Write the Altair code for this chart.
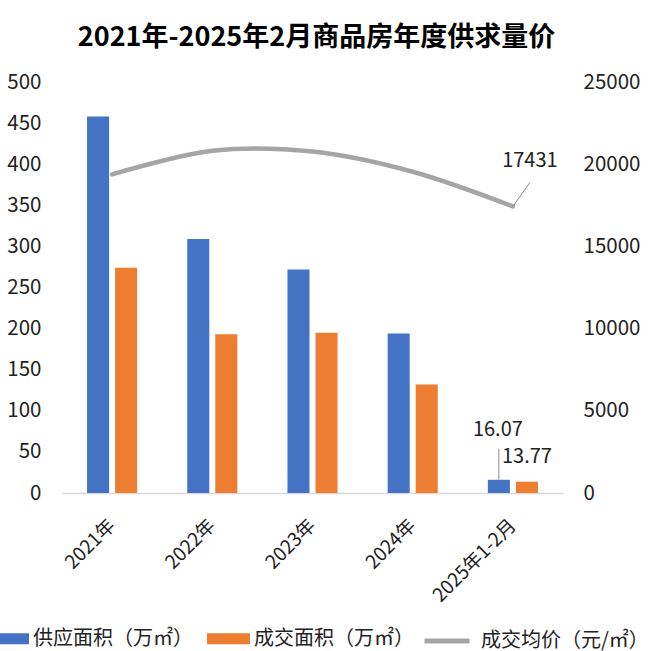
import altair as alt
import pandas as pd

categories = ["2021年", "2022年", "2023年", "2024年", "2025年1-2月"]
supply_area = [458, 309, 272, 194, 16.07]
deal_area = [274, 193, 195, 132, 13.77]
avg_price = [19380, 20820, 20770, 19540, 17431]
series_names = ["供应面积（万㎡）", "成交面积（万㎡）"]
price_name = "成交均价（元/㎡）"
left_ticks = [0, 50, 100, 150, 200, 250, 300, 350, 400, 450, 500]
right_ticks = [0, 5000, 10000, 15000, 20000, 25000]
title_text = "2021年-2025年2月商品房年度供求量价"

FONT = "Noto Sans CJK SC"
TXT = "#222222"

bar_df = pd.DataFrame({
    "cat": categories * 2,
    "series": [series_names[0]] * len(categories) + [series_names[1]] * len(categories),
    "value": supply_area + deal_area,
})
line_df = pd.DataFrame({"cat": categories, "series": price_name, "price": avg_price})
last_cat = categories[-1]

x_axis = alt.Axis(title=None, labelAngle=-45, labelAlign="right", labelBaseline="middle",
                  labelFontSize=19, labelFont=FONT, labelColor=TXT, labelPadding=29,
                  ticks=False, domainColor="#d9d9d9", domainWidth=1.5)
x_scale = alt.Scale(domain=categories, paddingInner=0.5, paddingOuter=0.25)


def X(**kw):
    return alt.X("cat:N", sort=categories, scale=x_scale, axis=x_axis, **kw)


xoff = alt.XOffset("series:N", sort=series_names,
                   scale=alt.Scale(domain=series_names, paddingInner=0.214, paddingOuter=0))

y_left = alt.Y("value:Q", scale=alt.Scale(domain=[0, 500], nice=False),
               axis=alt.Axis(values=left_ticks, title=None, grid=False, ticks=False, domain=False,
                             labelPadding=21, labelFontSize=20.5, labelFont=FONT, labelColor=TXT))
y_right = alt.Y("price:Q", scale=alt.Scale(domain=[0, 25000], nice=False),
                axis=alt.Axis(orient="right", values=right_ticks, format="d", title=None, grid=False,
                              ticks=False, domain=False, labelPadding=20, labelAlign="left",
                              labelFontSize=20.5, labelFont=FONT, labelColor=TXT))

bars = alt.Chart(bar_df).mark_bar().encode(
    x=X(), xOffset=xoff, y=y_left,
    color=alt.Color("series:N", sort=series_names,
                    scale=alt.Scale(domain=series_names, range=["#4472C4", "#ED7D31"]),
                    legend=alt.Legend(title=None, orient="none", legendX=-76, legendY=535,
                                      direction="horizontal", symbolType="M-1,-0.256H1V0.256H-1Z",
                                      symbolSize=1849, symbolStrokeWidth=0, labelFontSize=20,
                                      labelFont=FONT, labelColor=TXT, labelOffset=4,
                                      columnPadding=14, padding=0, labelLimit=300)),
)

bar_leader = alt.Chart(bar_df).transform_filter(
    (alt.datum.cat == last_cat) & (alt.datum.series == series_names[0])
).mark_rule(color="#8c8c8c", strokeWidth=1, y2Offset=-31).encode(
    x=X(), xOffset=xoff, y=y_left, y2="value:Q")

bar_text1 = alt.Chart(bar_df).transform_filter(
    (alt.datum.cat == last_cat) & (alt.datum.series == series_names[0])
).mark_text(font=FONT, fontSize=20, color=TXT, dy=-50, dx=-1).encode(
    x=X(), xOffset=xoff, y=y_left, text=alt.Text("value:Q", format=".2f"))

bar_text2 = alt.Chart(bar_df).transform_filter(
    (alt.datum.cat == last_cat) & (alt.datum.series == series_names[1])
).mark_text(font=FONT, fontSize=20, color=TXT, dy=-25).encode(
    x=X(), xOffset=xoff, y=y_left, text=alt.Text("value:Q", format=".2f"))

line = alt.Chart(line_df).mark_line(interpolate="cardinal", strokeWidth=4.5, strokeCap="round").encode(
    x=X(), y=y_right,
    color=alt.Color("series:N", scale=alt.Scale(domain=[price_name], range=["#A5A5A5"]),
                    legend=alt.Legend(title=None, orient="none", legendX=360, legendY=534,
                                      symbolType="stroke", symbolSize=2025, symbolStrokeWidth=5,
                                      labelFontSize=20, labelFont=FONT, labelColor=TXT,
                                      labelOffset=9, padding=0, labelLimit=300)),
)

line_leader = alt.Chart(line_df).transform_filter(alt.datum.cat == last_cat).mark_rule(
    color="#8c8c8c", strokeWidth=1, x2Offset=17, y2Offset=-24
).encode(x=X(bandPosition=0.5), x2=alt.X2("cat:N", bandPosition=0.5), y=y_right, y2="price:Q")

line_text = alt.Chart(line_df).transform_filter(alt.datum.cat == last_cat).mark_text(
    font=FONT, fontSize=20, color=TXT, dx=17, dy=-45
).encode(x=X(), y=y_right, text=alt.Text("price:Q", format="d"))

left = alt.layer(bars, bar_leader, bar_text1, bar_text2)
right = alt.layer(line, line_leader, line_text)

chart = alt.layer(left, right).resolve_scale(y="independent", color="independent").properties(
    width=501, height=411,
    padding={"left": 62, "top": 82, "right": 97, "bottom": 158},
    autosize=alt.AutoSizeParams(type="none"),
    background="white",
    title=alt.TitleParams(title_text, fontSize=27, font=FONT, fontWeight="bold", color="black",
                          anchor="middle", offset=20, dx=4),
).configure_view(stroke=None)

chart.save("out.html", embed_options={"renderer": "svg", "actions": False})
